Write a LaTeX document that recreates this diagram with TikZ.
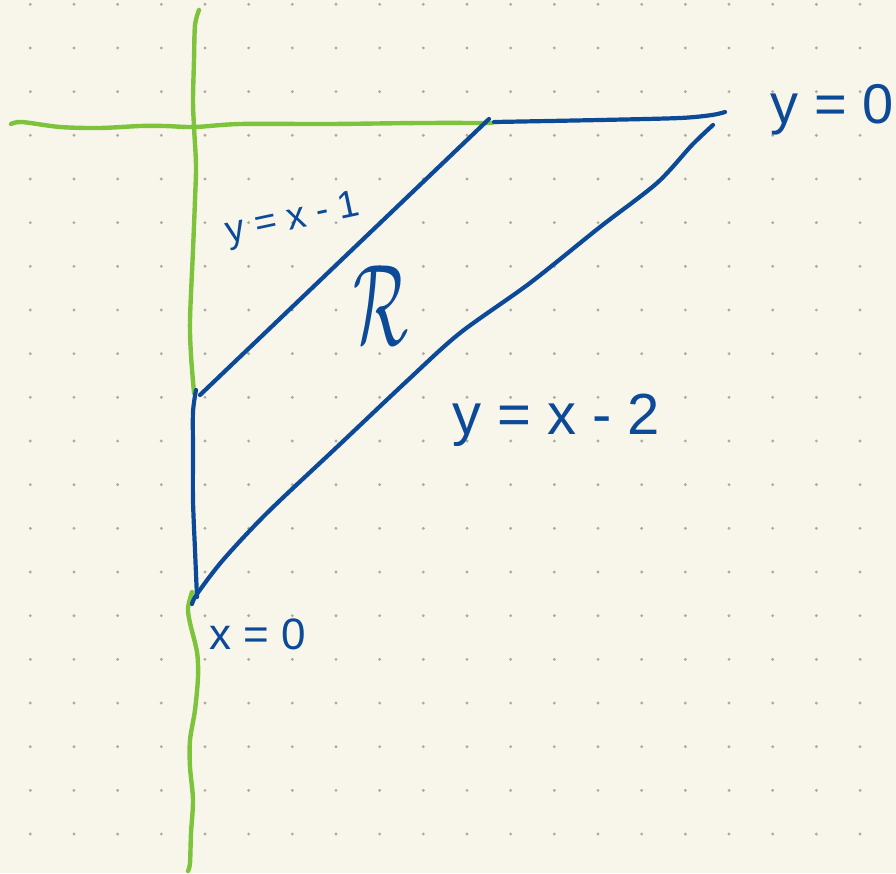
\documentclass[tikz,border=0pt]{standalone}
\usepackage{fontspec}
\setmainfont{Liberation Sans}
\usepackage{tikz}
\usetikzlibrary{positioning,calc}
\definecolor{paper}{RGB}{248,246,235}
\definecolor{dotgray}{RGB}{172,170,162}
\definecolor{axisgreen}{RGB}{125,196,60}
\definecolor{inkblue}{RGB}{12,74,152}
\tikzset{
  axisline/.style={draw=axisgreen,line width=4.4pt,line cap=round,line join=round},
  inkline/.style={draw=inkblue,line width=4.2pt,line cap=round,line join=round},
  lbl/.style={text=inkblue,inner sep=0pt,anchor=center}
}

\begin{document}
\begin{tikzpicture}[x=1pt,y=-1pt]
\useasboundingbox (0,0) rectangle (896,873);
\fill[paper] (0,0) rectangle (896,873);
% dot grid
\foreach \i in {0,...,19}
  \foreach \j in {0,...,19}
    \fill[dotgray] (30.3+43.67*\i,4.3+43.67*\j) circle (1.6);
% axes
\draw[axisline] plot[smooth] coordinates {(199,10) (195,25) (194,60) (193,100) (194,127) (196,165) (195,200) (193,250) (190,320) (191,355) (194,393)};
\draw[axisline] plot[smooth] coordinates {(192,592) (188,608) (190,623) (197,652) (198,677) (195,710) (190,740) (190,767) (193,800) (191,833) (190,863) (188,871)};
\draw[axisline] plot[smooth] coordinates {(11,124) (22,122) (60,127) (100,128) (140,126) (165,126) (195,127) (240,124) (330,124) (420,123) (492,123)};
% region R
\coordinate (top1) at (489,119);
\coordinate (low1) at (200,395);
\coordinate (top2) at (713,125);
\coordinate (low2) at (192,604);
\draw[inkline] plot[smooth] coordinates {(494,122) (600,120) (680,118) (712,115) (725,112)};
\draw[inkline] (top1) -- (low1);
\draw[inkline] plot[smooth] coordinates {(196,390) (193,412) (193,450) (193,500) (195,550) (197,597)};
\draw[inkline] plot[smooth] coordinates {(top2) (692,145) (657,183) (600,227) (530,283) (460,333) (408,380) (337,447) (267,513) (223,560) (197,594) (low2)};
% labels
\node[lbl,font=\fontsize{56}{60}\selectfont] (ylbl0) at (832,110) {y = 0};
\node[lbl,font=\fontsize{38}{42}\selectfont,rotate=12] (ylbl1) at (293,220) {y = x - 1};
\node[lbl,font=\fontsize{58}{62}\selectfont] (ylbl2) at (556,420) {y = x - 2};
\node[lbl,font=\fontsize{44}{48}\selectfont] (xlbl0) at (258,634) {x = 0};
\node[lbl] (reg) at (381,305) {\scalebox{6.5}[11.5]{$\mathcal{R}$}};
\end{tikzpicture}
\end{document}
